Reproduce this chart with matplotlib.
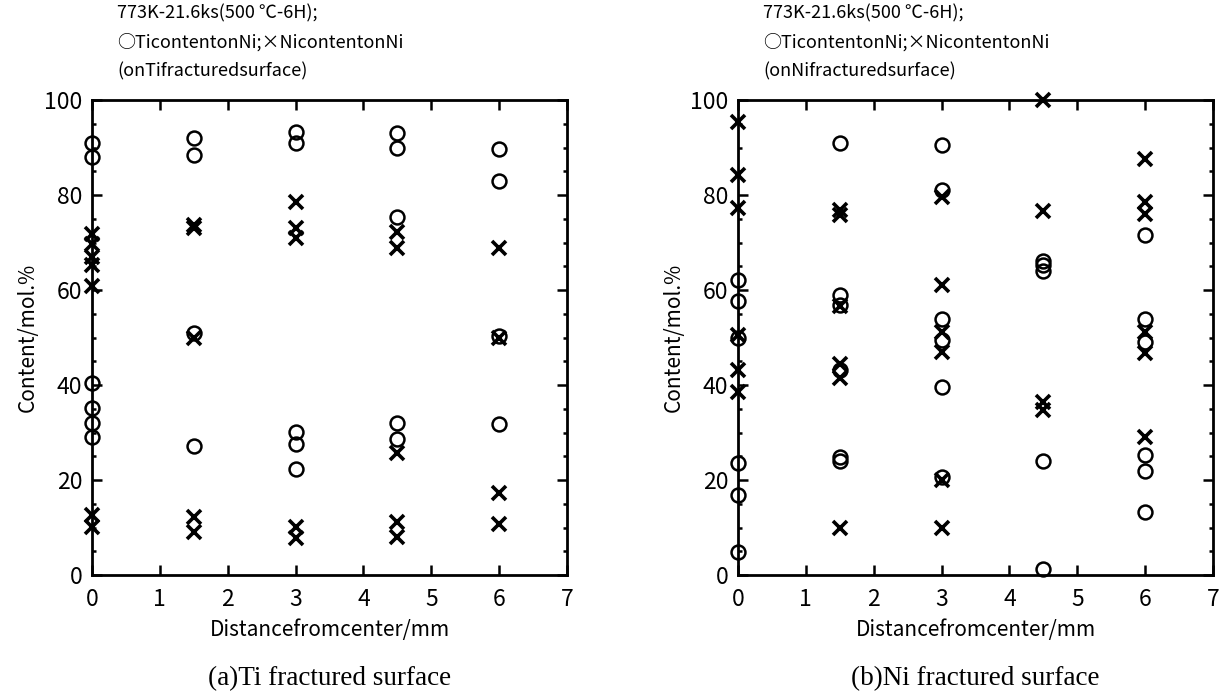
import matplotlib
matplotlib.use("Agg")
import matplotlib.pyplot as plt
from matplotlib.ticker import MultipleLocator

plt.rcParams['font.family'] = ['Noto Sans CJK JP', 'DejaVu Sans']

# ---- data: (a) Ti fractured surface ----
a_ti_x = [0, 0, 0, 0, 0, 0,
          1.5, 1.5, 1.5, 1.5,
          3, 3, 3, 3, 3,
          4.5, 4.5, 4.5, 4.5, 4.5,
          6, 6, 6, 6]
a_ti_y = [90.9, 88.1, 40.4, 35.2, 32.1, 29.1,
          91.9, 88.4, 51.0, 27.2,
          93.2, 90.9, 30.2, 27.5, 22.3,
          93.0, 89.8, 75.4, 32.1, 28.6,
          89.6, 83.0, 50.4, 31.8]
a_ni_x = [0, 0, 0, 0, 0, 0, 0,
          1.5, 1.5, 1.5, 1.5, 1.5,
          3, 3, 3, 3, 3,
          4.5, 4.5, 4.5, 4.5, 4.5,
          6, 6, 6, 6]
a_ni_y = [71.8, 69.6, 67.0, 65.2, 60.8, 12.6, 10.2,
          73.6, 73.0, 49.8, 12.3, 9.1,
          78.6, 73.0, 70.9, 10.2, 7.7,
          72.3, 68.8, 25.6, 11.2, 8.1,
          68.8, 49.8, 17.3, 10.7]

# ---- data: (b) Ni fractured surface ----
b_ti_x = [0, 0, 0, 0, 0, 0,
          1.5, 1.5, 1.5, 1.5, 1.5, 1.5,
          3, 3, 3, 3, 3, 3,
          4.5, 4.5, 4.5, 4.5, 4.5,
          6, 6, 6, 6, 6, 6]
b_ti_y = [62.1, 57.7, 49.8, 23.5, 16.8, 4.9,
          90.9, 59.0, 56.8, 43.2, 24.9, 23.9,
          90.5, 81.1, 53.8, 49.5, 39.6, 20.7,
          66.2, 65.3, 63.9, 24.1, 1.2,
          71.6, 54.0, 49.1, 25.3, 21.9, 13.3]
b_ni_x = [0, 0, 0, 0, 0, 0,
          1.5, 1.5, 1.5, 1.5, 1.5, 1.5,
          3, 3, 3, 3, 3, 3,
          4.5, 4.5, 4.5, 4.5,
          6, 6, 6, 6, 6, 6]
b_ni_y = [95.3, 84.2, 77.2, 50.6, 43.2, 38.6,
          76.8, 75.8, 56.6, 44.4, 41.4, 10.0,
          79.6, 61.1, 51.2, 47.0, 20.0, 10.0,
          100.0, 76.7, 36.5, 34.7,
          87.5, 78.6, 76.1, 51.2, 46.7, 29.1]

titles = ["773K-21.6ks(500 ℃-6H);\n○TicontentonNi;×NicontentonNi\n(onTifracturedsurface)",
          "773K-21.6ks(500 ℃-6H);\n○TicontentonNi;×NicontentonNi\n(onNifracturedsurface)"]
captions = ["(a)Ti fractured surface", "(b)Ni fractured surface"]
xlabel = "Distancefromcenter/mm"
ylabel = "Content/mol.%"

fig = plt.figure(figsize=(12.27, 6.94), dpi=100)
W, H = 1227, 694
axes_px = [(92, 567), (738, 1213)]
top_px, bot_px = 100, 575

datasets = [(a_ti_x, a_ti_y, a_ni_x, a_ni_y), (b_ti_x, b_ti_y, b_ni_x, b_ni_y)]

for i, (l, r) in enumerate(axes_px):
    ax = fig.add_axes([l / W, (H - bot_px) / H, (r - l) / W, (bot_px - top_px) / H])
    tx, ty, nx, ny = datasets[i]
    ax.plot(tx, ty, linestyle='none', marker='o', ms=10, mfc='none', mec='black',
            mew=1.8, clip_on=False, zorder=3)
    ax.plot(nx, ny, linestyle='none', marker='x', ms=10, mec='black',
            mew=2.6, clip_on=False, zorder=3)
    ax.set_xlim(0, 7)
    ax.set_ylim(0, 100)
    ax.xaxis.set_major_locator(MultipleLocator(1))
    ax.yaxis.set_major_locator(MultipleLocator(20))
    ax.yaxis.set_minor_locator(MultipleLocator(5))
    ax.tick_params(axis='both', which='major', direction='in', length=7, width=1.8,
                   top=True, right=True, labelsize=16.5)
    ax.tick_params(axis='x', which='major', pad=9)
    ax.tick_params(axis='y', which='major', pad=7)
    ax.tick_params(axis='y', which='minor', direction='in', length=3, width=1.8,
                   left=True, right=True)
    for s in ax.spines.values():
        s.set_linewidth(2.0)
    ax.set_xlabel(xlabel, fontsize=15, labelpad=6)
    ax.set_ylabel(ylabel, fontsize=15, labelpad=4)
    # title block
    fig.text((l + 25) / W, (H - 4) / H, titles[i], ha='left', va='top',
             fontsize=13, linespacing=1.75)
    # caption
    fig.text((l + r) / 2 / W, (H - 679) / H, captions[i], ha='center', va='center',
             fontsize=19.5, family='Liberation Serif')

fig.savefig("out.png", dpi=100)
